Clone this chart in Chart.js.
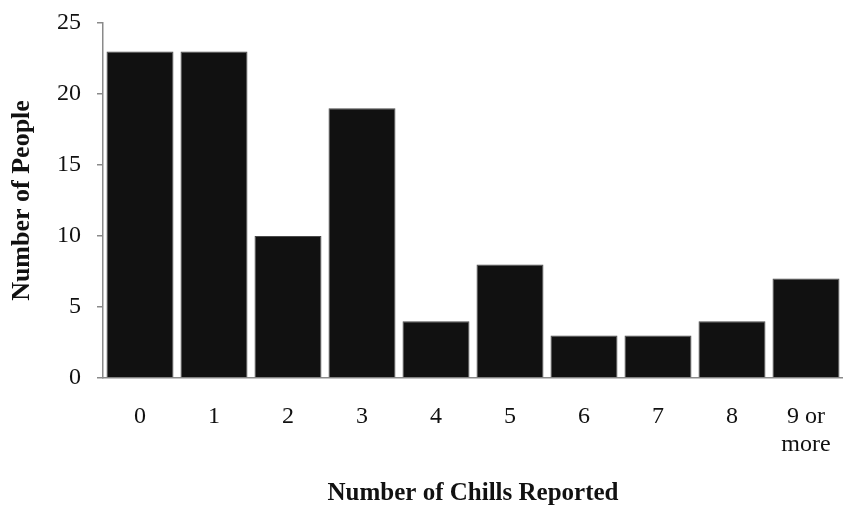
<!DOCTYPE html>
<html>
<head>
<meta charset="utf-8">
<script src="https://cdn.jsdelivr.net/npm/chart.js@4"></script>
<style>
  html, body { margin: 0; padding: 0; background: #fff; }
  #wrap { position: relative; width: 843px; height: 506px; }
</style>
</head>
<body>
<div id="wrap"><canvas id="chills"></canvas></div>
<script>
  // chills histogram
  const categories = ["0", "1", "2", "3", "4", "5", "6", "7", "8", ["9 or", "more"]];
  const people = [23, 23, 10, 19, 4, 8, 3, 3, 4, 7];
  const yTicks = [0, 5, 10, 15, 20, 25];

  const SERIF = "'Liberation Serif', 'Times New Roman', serif";
  const AXIS_GRAY = "#8a8a8a";

  // keep the plot box where the layout padding says, not where tick labels push it
  const noScalePadding = (scale) => {
    scale.paddingTop = 0;
    scale.paddingBottom = 0;
    scale.paddingLeft = 0;
    scale.paddingRight = 0;
  };

  const ctx = document.getElementById("chills").getContext("2d");
  new Chart(ctx, {
    type: "bar",
    data: {
      labels: categories,
      datasets: [
        {
          data: people,
          backgroundColor: "#111111",
          borderColor: "#4a4a4a",
          borderWidth: 1,
          barPercentage: 0.905,
          categoryPercentage: 1,
        },
      ],
    },
    options: {
      responsive: true,
      maintainAspectRatio: false,
      animation: false,
      layout: { padding: { top: 23, right: 0, bottom: 0, left: 0 } },
      plugins: {
        legend: { display: false },
        tooltip: { enabled: false },
      },
      scales: {
        x: {
          grid: { display: false, drawTicks: false },
          border: { display: true, color: AXIS_GRAY, width: 1.5 },
          ticks: {
            color: "#111",
            padding: 25,
            maxRotation: 0,
            font: { family: SERIF, size: 24, lineHeight: 1.15 },
          },
          title: {
            display: true,
            text: "Number of Chills Reported",
            color: "#111",
            padding: { top: 0, bottom: 0 },
            font: { family: SERIF, size: 25, weight: "bold", lineHeight: 1.0 },
          },
          afterFit: (scale) => {
            scale.height = 128;
            noScalePadding(scale);
          },
        },
        y: {
          min: 0,
          max: 25,
          afterBuildTicks: (scale) => {
            scale.ticks = yTicks.map((v) => ({ value: v }));
          },
          grid: {
            drawOnChartArea: false,
            drawTicks: true,
            tickLength: 6,
            color: AXIS_GRAY,
            lineWidth: 1.5,
          },
          border: { display: true, color: AXIS_GRAY, width: 1.5 },
          ticks: {
            color: "#111",
            padding: 16,
            font: { family: SERIF, size: 24 },
          },
          title: {
            display: true,
            text: "Number of People",
            color: "#111",
            padding: { top: 7, bottom: 0 },
            font: { family: SERIF, size: 26, weight: "bold" },
          },
          afterFit: (scale) => {
            scale.width = 103;
            noScalePadding(scale);
          },
        },
      },
    },
  });
</script>
</body>
</html>
